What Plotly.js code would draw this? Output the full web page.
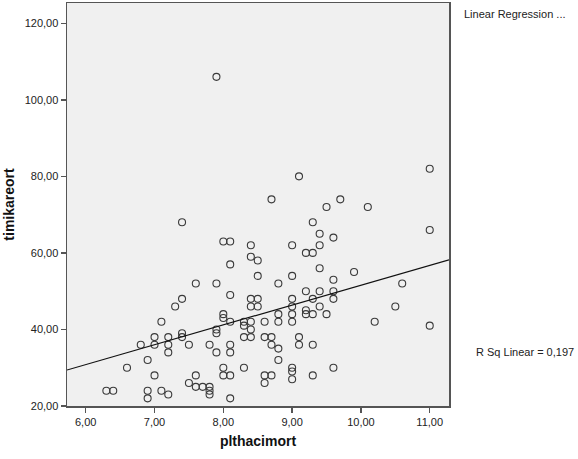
<!DOCTYPE html>
<html>
<head>
<meta charset="utf-8">
<script src="https://cdn.plot.ly/plotly-3.0.1.min.js"></script>
<style>html,body{margin:0;padding:0;background:#fff;}#chart{width:578px;height:459px;}</style>
</head>
<body>
<div id="chart"></div>
<script>
var plthacimort = [7.9,11.0,9.1,8.7,9.7,9.5,10.1,7.4,9.3,11.0,9.4,9.6,8.0,8.1,8.4,9.0,9.4,9.2,9.3,8.4,
  8.5,8.1,9.4,9.9,8.5,9.0,9.6,7.6,7.9,8.8,10.6,9.2,9.4,9.6,8.1,7.4,8.4,8.5,9.0,9.3,
  9.6,7.3,8.4,8.5,9.0,9.4,10.5,9.2,8.0,8.8,9.0,9.2,9.3,9.5,8.0,7.1,8.1,8.3,8.4,8.6,
  8.8,9.0,10.2,8.3,11.0,7.9,8.4,7.4,7.9,7.0,7.2,7.4,8.3,8.4,8.6,8.7,9.1,6.8,7.0,7.2,
  7.5,7.8,8.1,8.7,9.1,9.3,8.8,7.2,7.9,8.1,6.9,8.8,6.6,8.0,8.3,9.0,9.6,9.0,7.0,7.6,
  8.0,8.1,8.6,8.7,9.3,9.0,7.5,8.6,7.6,7.7,7.8,6.3,6.4,6.9,7.1,7.8,7.2,7.8,6.9,8.1];
var timikareort = [106,82,80,74,74,72,72,68,68,66,65,64,63,63,62,62,62,60,60,59,
  58,57,56,55,54,54,53,52,52,52,52,50,50,50,49,48,48,48,48,48,
  48,46,46,46,46,46,46,45,44,44,44,44,44,44,43,42,42,42,42,42,
  42,42,42,41,41,40,40,39,39,38,38,38,38,38,38,38,38,36,36,36,
  36,36,36,36,36,36,35,34,34,34,32,32,30,30,30,30,30,29,28,28,
  28,28,28,28,28,27,26,26,25,25,25,24,24,24,24,24,23,23,22,22];
var xTickVals = [6, 7, 8, 9, 10, 11];
var yTickVals = [20, 40, 60, 80, 100, 120];
var legendTitle = "Linear Regression ...";
var rSqLabel = "R Sq Linear = 0,197";
// fitted regression line (at the axis ends)
var fitX = [5.728, 11.28];
var fitY = [29.4, 58.2];

var font = {family: "Liberation Sans, Arial, sans-serif", size: 11, color: "#222"};
var titleFont = {family: "Liberation Sans, Arial, sans-serif", size: 14, color: "#111", weight: "bold"};
var data = [
  {x: plthacimort, y: timikareort, type: "scatter", mode: "markers",
   marker: {symbol: "circle-open", size: 7, color: "#3a3a3a", line: {width: 1.1, color: "#3a3a3a"}},
   hoverinfo: "skip", showlegend: false},
  {x: fitX, y: fitY, type: "scatter", mode: "lines",
   line: {color: "#111", width: 1.2}, hoverinfo: "skip", showlegend: false}
];
var axisCommon = {showgrid: false, zeroline: false, showline: true, mirror: true,
  linecolor: "#555", linewidth: 1.5, ticks: "outside", ticklen: 5, tickwidth: 1.5, tickcolor: "#555",
  tickfont: font, tickformat: ".2f", fixedrange: true};
var layout = {
  width: 578, height: 459,
  margin: {l: 67, r: 129, t: 3, b: 53},
  paper_bgcolor: "#ffffff", plot_bgcolor: "#f0f0f0",
  separators: ",.",
  font: font,
  xaxis: Object.assign({}, axisCommon, {range: [fitX[0], fitX[1]], tickvals: xTickVals,
    title: {text: "plthacimort", font: titleFont, standoff: 9}}),
  yaxis: Object.assign({}, axisCommon, {range: [20, 125.3], tickvals: yTickVals,
    title: {text: "timikareort", font: titleFont, standoff: 6}}),
  annotations: [
    {text: legendTitle, xref: "paper", yref: "paper", x: 1.034, y: 0.972, xanchor: "left", yanchor: "middle", showarrow: false, font: font},
    {text: rSqLabel, xref: "paper", yref: "paper", x: 1.066, y: 0.135, xanchor: "left", yanchor: "middle", showarrow: false, font: font}
  ]
};
Plotly.newPlot("chart", data, layout, {staticPlot: true, displayModeBar: false});
</script>
</body>
</html>
